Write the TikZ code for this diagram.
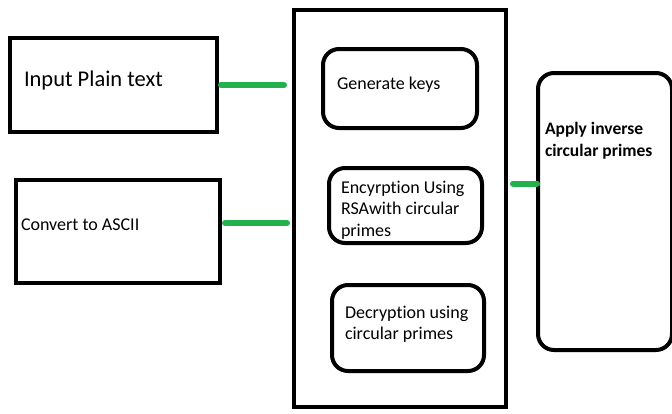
\documentclass[tikz,border=0pt]{standalone}
\usepackage{fontspec}
\setmainfont{Carlito}[Ligatures=CommonOff]
\usetikzlibrary{positioning}

\definecolor{paintgreen}{RGB}{34,177,76}

\begin{document}
\begin{tikzpicture}[
    x=1pt, y=-1pt,
    box/.style={rectangle, draw=black, line width=4pt, inner sep=0pt, outer sep=0pt},
    roundbox/.style={box, rounded corners=16pt},
    txt/.style={inner sep=0pt, outer sep=0pt, align=left, anchor=base west, font=\fontsize{18}{21.5}\selectfont},
    link/.style={draw=paintgreen, line width=6pt, line cap=round}
  ]
    \useasboundingbox (0,0) rectangle (672,413);

    % left column
    \node[box, minimum width=207pt, minimum height=94pt] (plain) at (113.5,85) {};
    \node[box, minimum width=204pt, minimum height=103pt, below=48pt of plain, xshift=4.5pt] (ascii) {};

    % middle block with the three steps
    \node[box, minimum width=212pt, minimum height=397pt] (core) at (400,208.5) {};
    \node[roundbox, minimum width=154pt, minimum height=79pt, below=39pt of core.north] (keys) {};
    \node[roundbox, minimum width=153pt, minimum height=75pt, below=40pt of keys, xshift=5.5pt] (enc) {};
    \node[roundbox, minimum width=152pt, minimum height=86pt, below=42pt of enc, xshift=2.5pt] (dec) {};

    % right block
    \node[roundbox, minimum width=134pt, minimum height=277pt, right=32pt of core, yshift=-3pt] (apply) {};

    % texts (base = baseline of the last line)
    \node[txt, font=\fontsize{22.5}{26}\selectfont] (plaintxt) at ([xshift=14pt, yshift=-48pt]plain.north west) {Input Plain text};
    \node[txt] (asciitxt) at ([xshift=5pt, yshift=-50pt]ascii.north west) {Convert to ASCII};
    \node[txt] (keystxt) at ([xshift=14pt, yshift=-40pt]keys.north west) {Generate keys};
    \node[txt] (enctxt) at ([xshift=12pt, yshift=-68pt]enc.north west) {Encyrption Using\\RSAwith circular\\primes};
    \node[txt, font=\fontsize{18}{21}\selectfont] (dectxt) at ([xshift=13pt, yshift=-54pt]dec.north west) {Decryption using\\circular primes};
    \node[txt, font=\fontsize{17.5}{22}\selectfont\bfseries] (applytxt) at ([xshift=7pt, yshift=-83pt]apply.north west) {Apply inverse\\circular primes};

    % green connectors
    \coordinate (tap) at ([yshift=28pt]apply.west);
    \draw[link, shorten <=4pt, shorten >=10pt] (plain.east) -- (plain.east -| core.west);
    \draw[link, shorten <=5pt, shorten >=7pt] ([yshift=8.5pt]ascii.east) -- ([yshift=8.5pt]ascii.east -| core.west);
    \draw[link, shorten <=7pt, shorten >=1pt] (tap -| core.east) -- (tap);
\end{tikzpicture}
\end{document}
